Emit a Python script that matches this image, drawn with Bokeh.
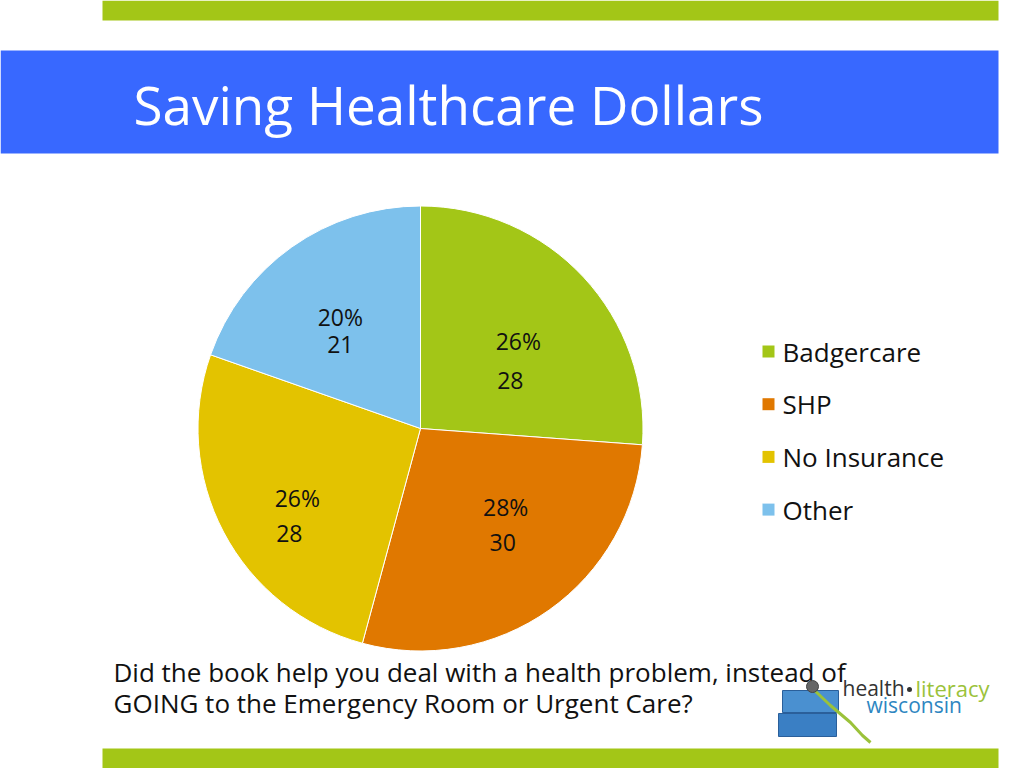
import math
from bokeh.plotting import figure
from bokeh.models import Range1d, ColumnDataSource
from bokeh.core.properties import value
from bokeh.embed import file_html
from bokeh.resources import INLINE

# ---- data ----
categories = ["Badgercare", "SHP", "No Insurance", "Other"]
counts = [28, 30, 28, 21]
colors = ["#A3C617", "#E07800", "#E3C300", "#7DC1EC"]
title = "Saving Healthcare Dollars"
question = ["Did the book help you deal with a health problem, instead of",
            "GOING to the Emergency Room or Urgent Care?"]

FONT = value("Open Sans")
W, H = 1024, 768

def Y(y):
    return H - y

p = figure(width=W, height=H, x_range=Range1d(0, W), y_range=Range1d(0, H),
           output_backend="svg", toolbar_location=None, min_border=0)
p.axis.visible = False
p.grid.visible = False
p.outline_line_color = None
p.background_fill_color = "white"
p.border_fill_color = "white"

# decorative bands
p.quad(left=[102], right=[998], top=[Y(0)], bottom=[Y(20)], fill_color="#A3C617", line_color=None)
p.quad(left=[102], right=[998], top=[Y(748)], bottom=[Y(768)], fill_color="#A3C617", line_color=None)
p.quad(left=[0], right=[998], top=[Y(50)], bottom=[Y(153)], fill_color="#3868FF", line_color=None)
p.text(x=[133], y=[Y(104)], text=[title], text_font=FONT, text_font_size="53px",
       text_color="white", text_baseline="middle", text_align="left")

# pie
cx, cy, R = 420, Y(428), 222.5
total = sum(counts)
fr = [c / total for c in counts]
cum = [0]
for f in fr:
    cum.append(cum[-1] + f)
starts = [math.pi / 2 - 2 * math.pi * cum[i] for i in range(len(counts))]
ends = [math.pi / 2 - 2 * math.pi * cum[i + 1] for i in range(len(counts))]
src = ColumnDataSource(dict(start=starts, end=ends, color=colors))
p.wedge(x=cx, y=cy, radius=R, start_angle="start", end_angle="end", direction="clock",
        fill_color="color", line_color="white", line_width=1, source=src)

# labels
mids = [(s + e) / 2 for s, e in zip(starts, ends)]
nudge1 = [(0, -3), (8, 30), (-5, -7), (-3, 3)]
nudge2 = [(-8, -43), (5, -5), (-13, -43), (-3, -25)]
rl = 0.6 * R
lx1, ly1, lx2, ly2, t1, t2 = [], [], [], [], [], []
for i, m in enumerate(mids):
    ax = cx + rl * math.cos(m)
    ay = cy + rl * math.sin(m)
    lx1.append(ax + nudge1[i][0]); ly1.append(ay + nudge1[i][1])
    lx2.append(ax + nudge2[i][0]); ly2.append(ay + nudge2[i][1])
    t1.append(f"{round(fr[i] * 100)}%")
    t2.append(str(counts[i]))
p.text(x=lx1, y=ly1, text=t1, text_font=FONT, text_font_size="23px", text_color="#111111",
       text_align="center", text_baseline="middle")
p.text(x=lx2, y=ly2, text=t2, text_font=FONT, text_font_size="23px", text_color="#111111",
       text_align="center", text_baseline="middle")

# legend
leg_y = [Y(351 + 52.7 * i) for i in range(len(categories))]
p.rect(x=[768] * len(categories), y=leg_y, width=12, height=12, fill_color=colors, line_color=None)
p.text(x=[782] * len(categories), y=leg_y, text=categories, text_font=FONT, text_font_size="26px",
       text_color="#111111", text_align="left", text_baseline="middle")

# question text
p.text(x=[113, 113], y=[Y(671), Y(702)], text=question, text_font=FONT, text_font_size="26px",
       text_color="#111111", text_align="left", text_baseline="middle")

# logo
p.quad(left=[782, 778], right=[838, 836], top=[Y(690), Y(713)], bottom=[Y(712), Y(736)],
       fill_color=["#4A90D0", "#3A7FC4"], line_color="#2A5F9A")
p.line(x=[812, 830, 850, 862, 870], y=[Y(688), Y(705), Y(722), Y(735), Y(742)],
       line_color="#9BC23A", line_width=3)
p.circle(x=[812], y=[Y(686)], radius=6, fill_color="#666666", line_color="#444444")
p.text(x=[842], y=[Y(687)], text=["health"], text_font=FONT, text_font_size="21px",
       text_color="#333333", text_align="left", text_baseline="middle")
p.circle(x=[909], y=[Y(689)], radius=2.5, fill_color="#333333", line_color=None)
p.text(x=[915], y=[Y(687)], text=["literacy"], text_font=FONT, text_font_size="22px",
       text_color="#9BC23A", text_align="left", text_baseline="middle")
p.text(x=[866], y=[Y(704)], text=["wisconsin"], text_font=FONT, text_font_size="21px",
       text_color="#2E86C1", text_align="left", text_baseline="middle")

open("out.html", "w").write(file_html(p, INLINE))
